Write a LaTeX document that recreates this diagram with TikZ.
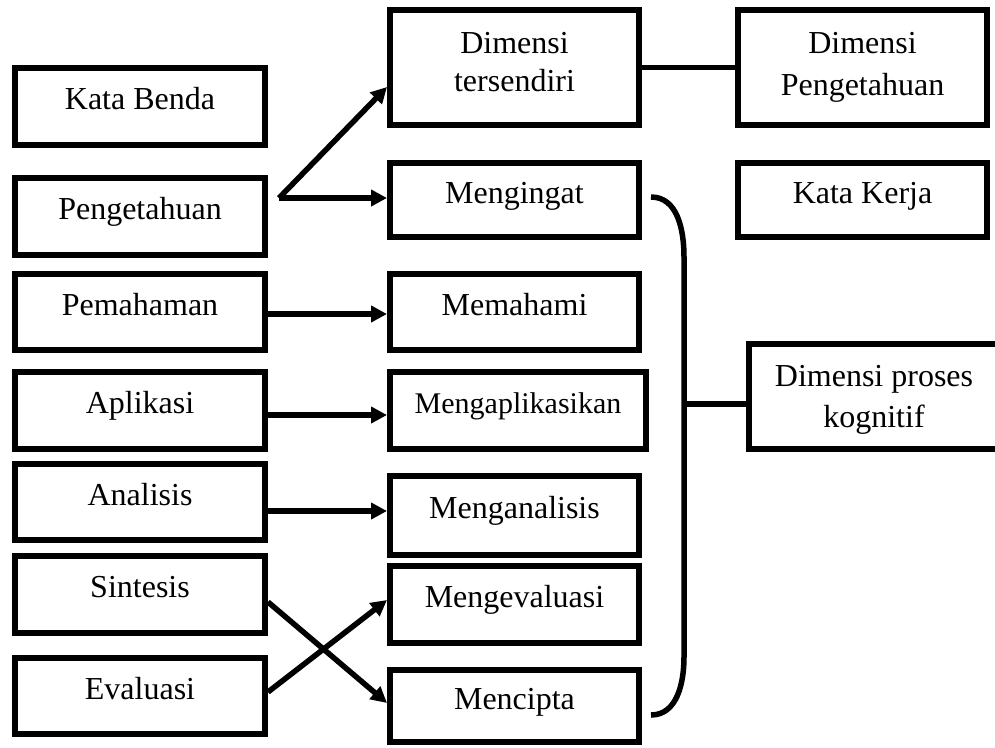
\documentclass[tikz,border=0pt]{standalone}
\usepackage{fontspec}
\setmainfont{Liberation Serif}
\usepackage{tikz}
\usetikzlibrary{arrows.meta}
\usetikzlibrary{positioning}

\newcommand{\hurufkotak}{\fontsize{32pt}{38pt}\selectfont}

\tikzset{
  kotakdasar/.style={draw, line width=6pt, minimum width=250pt,
    minimum height=77pt, inner sep=2pt, font=\hurufkotak},
  kotak/.style={kotakdasar, text height=21pt, text depth=15pt},
  kotakdua/.style={kotakdasar, align=center},
  garis/.style={line width=5.5pt},
  panah/.style={garis, -{Triangle[length=16pt,width=16pt]}}
}

\begin{document}
\begin{tikzpicture}[x=1pt, y=-1pt]
  \useasboundingbox (0,0) rectangle (995,747);

  % Kolom kiri
  \node[kotak] (kata)  at (140,106.5) {Kata Benda};
  \node[kotak] (peng)  at (140,216.5) {Pengetahuan};
  \node[kotak, minimum height=76pt] (pemah) at (140,312) {Pemahaman};
  \node[kotak] (aplik) at (140,410.5) {Aplikasi};
  \node[kotak, minimum height=76pt] (anal)  at (140,502) {Analisis};
  \node[kotak] (sint)  at (140,594.5) {Sintesis};
  \node[kotak, minimum height=76pt] (evalu) at (140,696) {Evaluasi};

  % Kolom tengah
  \node[kotakdua, minimum width=249pt, minimum height=115pt, text depth=12pt]
    (dimt) at (514.5,67.5) {Dimensi\\tersendiri};
  \node[kotak, minimum width=249pt, minimum height=74pt] (meng) at (514.5,200) {Mengingat};
  \node[kotak, minimum width=249pt, minimum height=76pt] (memah) at (514.5,312) {Memahami};
  \node[kotak, minimum width=256pt, font={\fontsize{30pt}{36pt}\selectfont}]
    (mapl) at (518,410.5) {Mengaplikasikan};
  \node[kotak, minimum width=249pt, minimum height=79pt] (mana) at (514.5,515.5) {Menganalisis};
  \node[kotak, minimum width=249pt] (meval) at (514.5,604.5) {Mengevaluasi};
  \node[kotak, minimum width=249pt, minimum height=72pt] (menc) at (514.5,706) {Mencipta};

  % Kolom kanan
  \node[kotakdua, minimum width=249pt, minimum height=115pt, text depth=8pt]
    (dimp) at (862.5,67.5) {Dimensi\\[4pt]Pengetahuan};
  \node[kotak, minimum width=249pt, minimum height=74pt] (kerja) at (862.5,200) {Kata Kerja};
  \node[kotakdua, minimum height=105pt, text depth=0pt]
    (proses) at (874,396.5) {Dimensi proses\\[3pt]kognitif};

  % Panah
  \coordinate (cabang) at ([xshift=11pt,yshift=18.5pt]peng.east);
  \draw[panah] (cabang) -- ([yshift=-19.5pt]dimt.west);
  \draw[panah] (cabang) -- ([yshift=2pt]meng.west);
  \draw[panah] ([yshift=-2pt]pemah.east) -- ([yshift=-2pt]memah.west);
  \draw[panah] ([yshift=-4.5pt]aplik.east) -- ([yshift=-4.5pt]mapl.west);
  \draw[panah] ([yshift=-9pt]anal.east) -- ([yshift=4.5pt]mana.west);
  \draw[panah] ([yshift=-7.5pt]sint.east) -- ([yshift=3pt]menc.west);
  \draw[panah] ([yshift=4pt]evalu.east) -- ([yshift=4.5pt]meval.west);
  \draw[garis] (dimt.east) -- (dimp.west);

  % Kurung kanan
  \coordinate (kurungatas)  at ([xshift=9pt,yshift=3pt]meng.east);
  \coordinate (kurungbawah) at ([xshift=9pt,yshift=-9pt]menc.east);
  \coordinate (kurungtengah) at (684,404);
  \draw[garis] (kurungatas) to[out=0,in=90] (684,257) -- (684,657)
    to[out=-90,in=0] (kurungbawah);
  \draw[garis] (kurungtengah) -- (kurungtengah -| proses.west);
\end{tikzpicture}
\end{document}
